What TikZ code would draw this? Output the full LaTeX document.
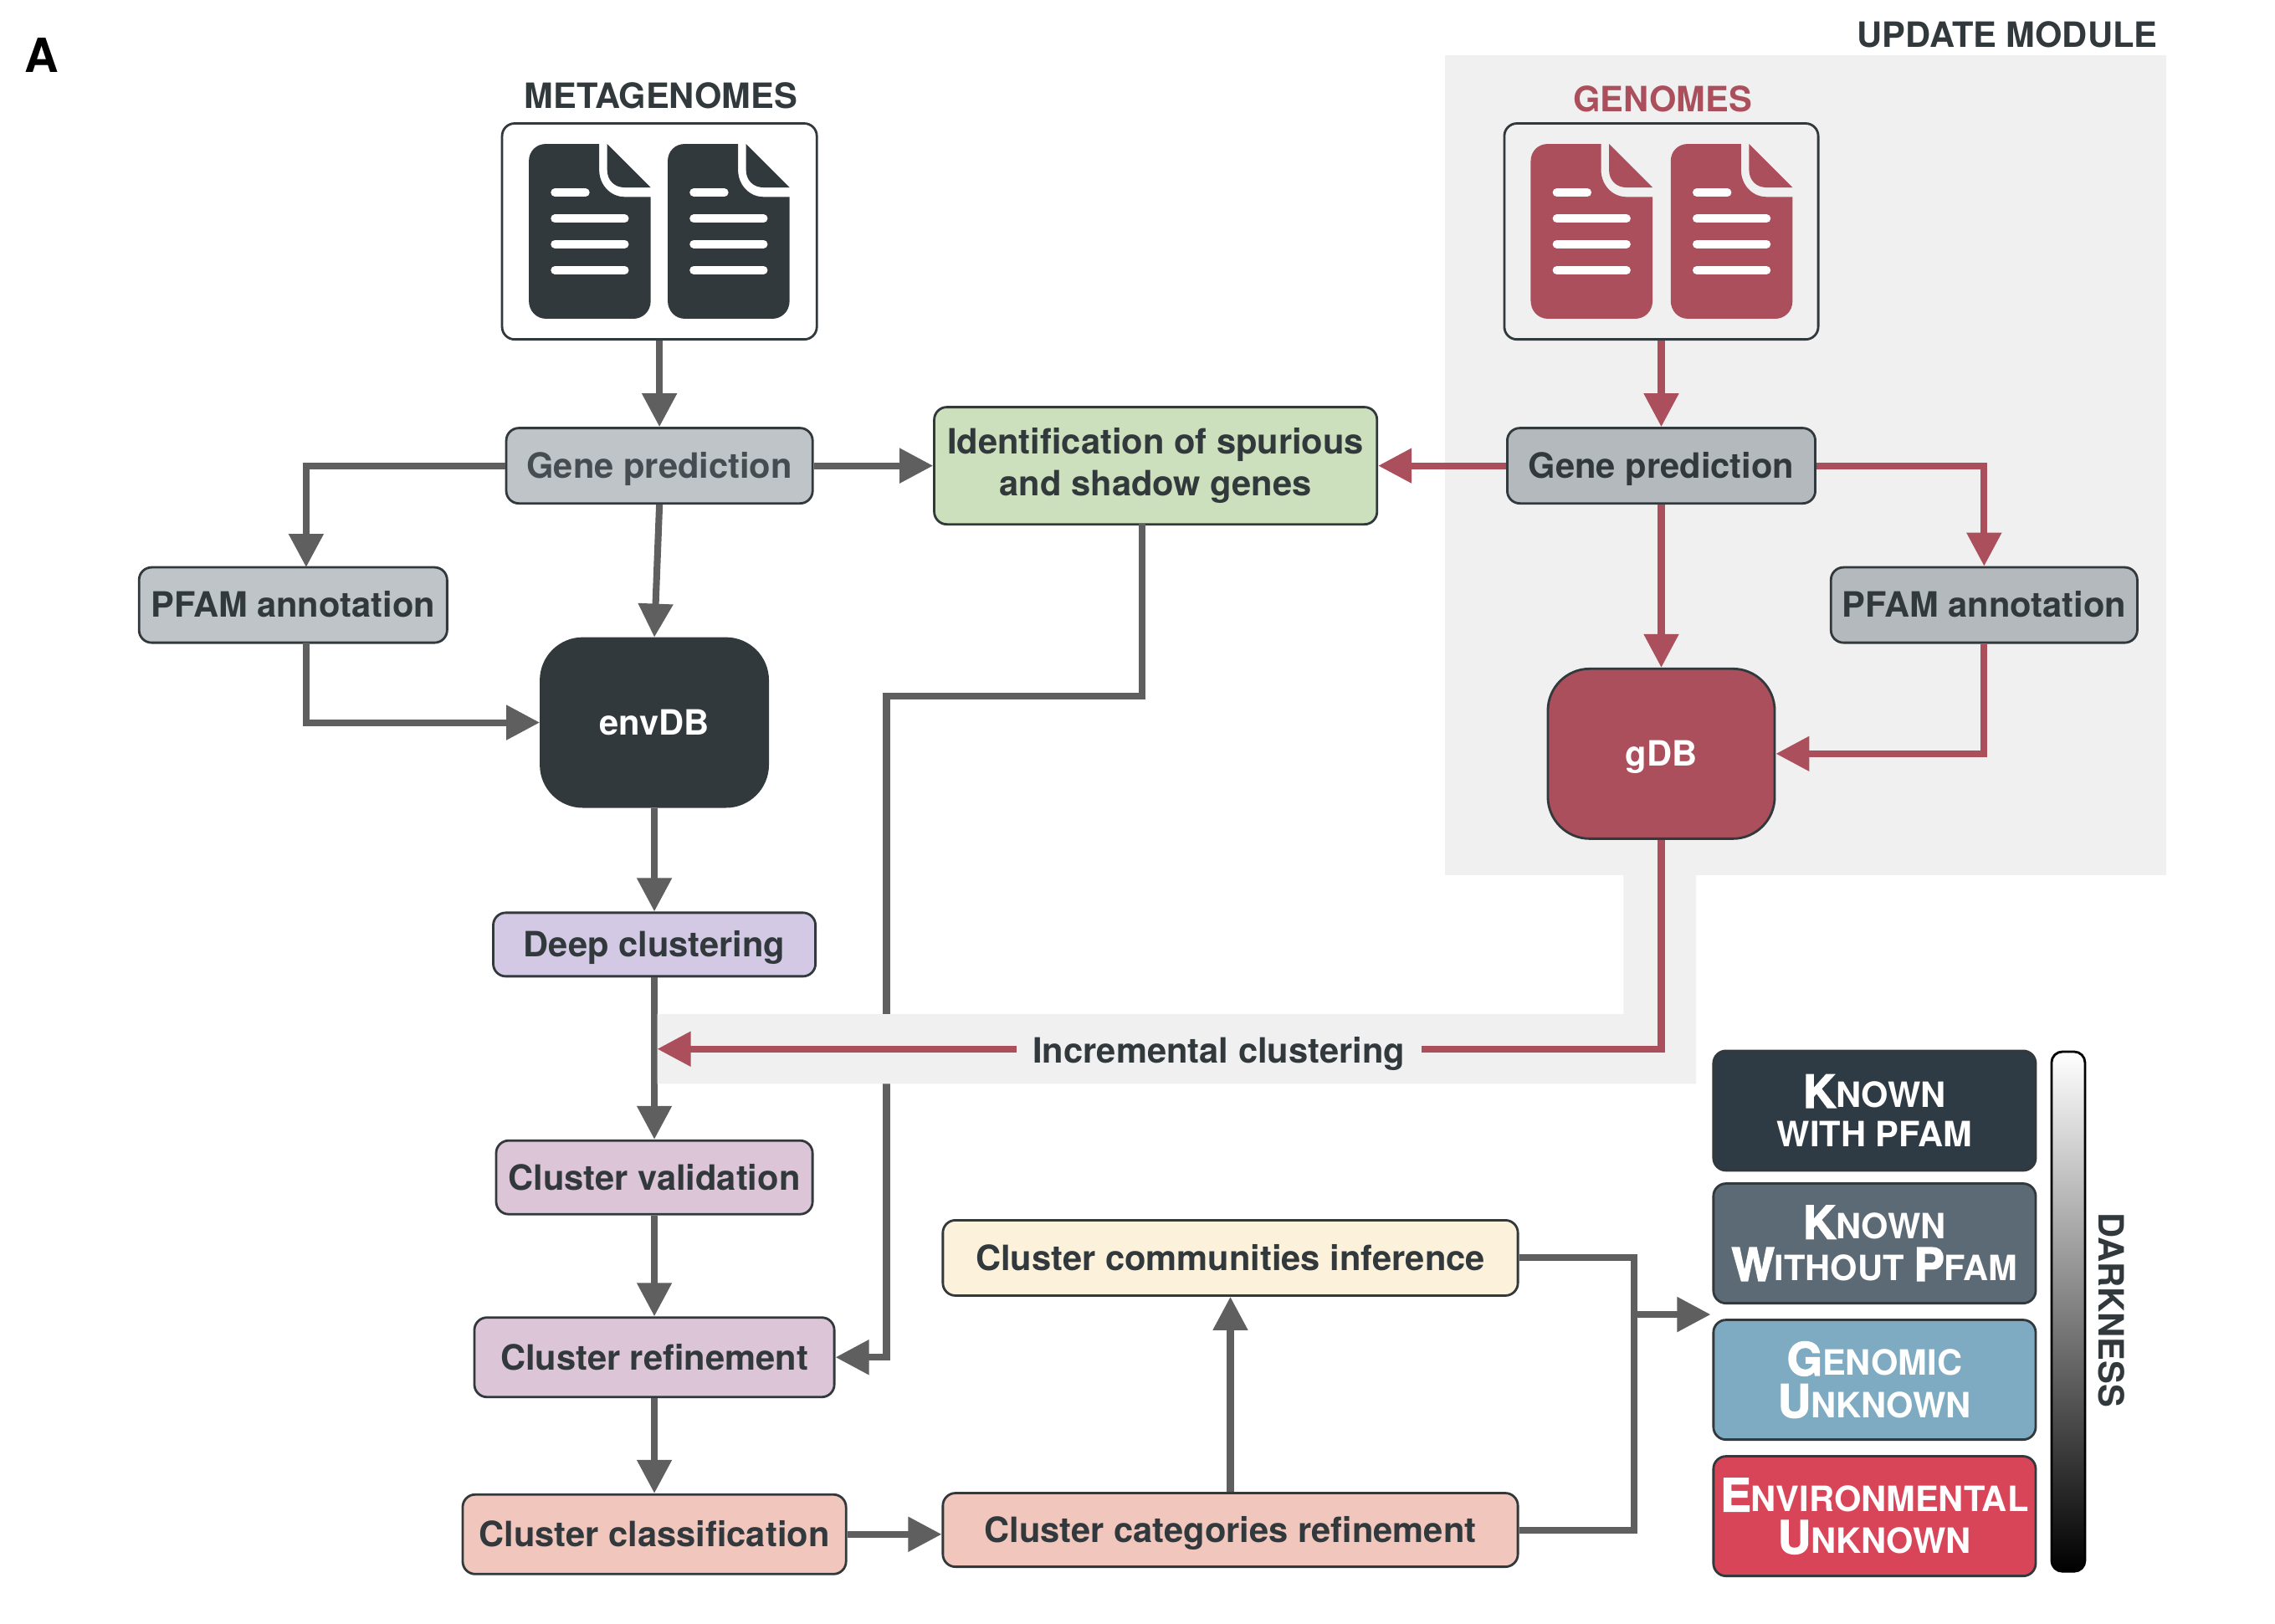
\documentclass[tikz,border=0pt]{standalone}
\usepackage{fontspec}
\setmainfont{TeX Gyre Heros}
\newfontfamily\heavyfont{TeX Gyre Heros}[BoldFeatures={FakeBold=2.5}]
\usetikzlibrary{arrows.meta}
\definecolor{inkdark}{HTML}{32393D}
\definecolor{inksoft}{HTML}{454D52}
\definecolor{flowgrey}{HTML}{5F5F5F}
\definecolor{flowred}{HTML}{AA4F5B}
\definecolor{panelgrey}{HTML}{F0F0F0}
\definecolor{boxsteel}{HTML}{BEC4C8}
\definecolor{boxslate}{HTML}{B4B9BD}
\definecolor{boxdeep}{HTML}{D3C9E4}
\definecolor{boxpink}{HTML}{DCC5D6}
\definecolor{boxsalmon}{HTML}{F0C6BD}
\definecolor{boxgreen}{HTML}{CDE0BD}
\definecolor{boxcream}{HTML}{FCF2DC}
\definecolor{legknown}{HTML}{2E3B44}
\definecolor{legkwp}{HTML}{5B6A74}
\definecolor{leggenomic}{HTML}{7EABC1}
\definecolor{legenv}{HTML}{D94558}
\newcommand{\capl}[1]{{\heavyfont\fontsize{15.5}{14.3}\selectfont #1}}
\tikzset{
  stepbox/.style={draw=inkdark, line width=0.8pt, rounded corners=0.15cm, inner sep=0pt, align=center, text=inkdark, font=\fontsize{11.85}{14.3}\selectfont\bfseries},
  singlebox/.style={stepbox, text height=0.297cm, text depth=0pt},
  dbbox/.style={singlebox, rounded corners=0.5cm, minimum width=2.71cm, text=white},
  legendbox/.style={stepbox, minimum width=3.85cm, minimum height=1.43cm, text=white},
  titletext/.style={inner sep=0pt, text=inkdark, text height=0.297cm, text depth=0pt, font=\fontsize{11.85}{14.3}\selectfont\bfseries},
  flowline/.style={line width=2.3pt, flowgrey},
  flowarrow/.style={flowline, -{Triangle[length=0.4cm,width=0.4cm]}},
  redline/.style={line width=2.3pt, flowred},
  redarrow/.style={redline, -{Triangle[length=0.4cm,width=0.4cm]}}
}
\begin{document}
\begin{tikzpicture}[x=0.017341cm, y=-0.017341cm]
    \useasboundingbox (0, 0) rectangle (1568, 1119.3);

    % Update module panel
    \fill[panelgrey] (996, 38) rectangle (1493, 603);

    \node[titletext, text height=0.41cm, font=\fontsize{16}{16}\selectfont\bfseries, text=black] (panela) at (28.5, 38) {A};
    \node[titletext] (updatetitle) at (1383.5, 24) {UPDATE MODULE};
    \node[titletext] (metatitle) at (455.5, 66) {METAGENOMES};
    \node[titletext, text=flowred] (genometitle) at (1146, 68.5) {GENOMES};

    % Input boxes
    \node[stepbox, fill=white, minimum width=3.76cm, minimum height=2.58cm] (metabox) at (454.5, 159.5) {};
    \node[stepbox, fill=panelgrey, minimum width=3.75cm, minimum height=2.58cm] (genomebox) at (1145, 159.5) {};

    % Document icons
    \foreach \docx/\doccol in {364.5/inkdark, 460.2/inkdark, 1055/flowred, 1151.5/flowred} {
        \begin{scope}[shift={(\docx, 99.2)}]
            \fill[\doccol] (48.5, 0) -- (48.5, 18) .. controls (48.5, 28) and (56, 36.5) .. (66, 36.5) -- (84, 36.5) -- (84, 108)
                .. controls (84, 116) and (78, 120.5) .. (72, 120.5) -- (12, 120.5) .. controls (5, 120.5) and (0, 115) .. (0, 108)
                -- (0, 12) .. controls (0, 5) and (5, 0) .. (12, 0) -- cycle;
            \fill[\doccol] (54, 0) -- (84, 30) -- (66, 30) .. controls (59, 30) and (54, 25) .. (54, 18) -- cycle;
            \draw[white, line width=2.85pt, line cap=round] (18, 33.5) -- (39, 33.5);
            \foreach \docy in {51.5, 69, 87} {
                \draw[white, line width=2.85pt, line cap=round] (18, \docy) -- (66, \docy);
            }
        \end{scope}
    }

    % Left column
    \node[singlebox, fill=boxsteel, text=inksoft, minimum width=3.66cm, minimum height=0.9cm] (genel) at (454.5, 321) {Gene prediction};
    \node[singlebox, fill=boxsteel, minimum width=3.68cm, minimum height=0.9cm] (pfaml) at (202, 417) {PFAM annotation};
    \node[dbbox, fill=inkdark, minimum height=2.01cm] (envdb) at (451, 498) {envDB};
    \node[singlebox, fill=boxdeep, minimum width=3.85cm, minimum height=0.76cm] (deep) at (451, 651) {Deep clustering};
    \node[singlebox, fill=boxpink, minimum width=3.78cm, minimum height=0.88cm] (validation) at (451, 811.5) {Cluster validation};
    \node[singlebox, fill=boxpink, minimum width=4.3cm, minimum height=0.95cm] (refinement) at (451, 935.5) {Cluster refinement};
    \node[singlebox, fill=boxsalmon, minimum width=4.58cm, minimum height=0.95cm] (classification) at (451, 1057.5) {Cluster classification};

    % Middle column
    \node[stepbox, fill=boxgreen, minimum width=5.29cm, minimum height=1.4cm] (identif) at (796.5, 321) {Identification of spurious\\and shadow genes};
    \node[singlebox, fill=boxcream, minimum width=6.87cm, minimum height=0.9cm] (communities) at (848, 867) {Cluster communities inference};
    \node[singlebox, fill=boxsalmon, minimum width=6.87cm, minimum height=0.88cm] (categories) at (848, 1054.5) {Cluster categories refinement};

    % Right column
    \node[singlebox, fill=boxslate, minimum width=3.68cm, minimum height=0.9cm] (gener) at (1145, 321) {Gene prediction};
    \node[singlebox, fill=boxslate, minimum width=3.66cm, minimum height=0.9cm] (pfamr) at (1367.5, 417) {PFAM annotation};
    \node[dbbox, fill=flowred, minimum height=2.03cm] (gdb) at (1145, 519.5) {gDB};

    % Legend
    \node[legendbox, fill=legknown] (known) at (1292, 765.5) {\capl{K}NOWN\\[-1pt]WITH PFAM};
    \node[legendbox, fill=legkwp] (knownwp) at (1292, 857) {\capl{K}NOWN\\\capl{W}ITHOUT \capl{P}FAM};
    \node[legendbox, fill=leggenomic] (genomic) at (1292, 951) {\capl{G}ENOMIC\\\capl{U}NKNOWN};
    \node[legendbox, fill=legenv] (environmental) at (1292, 1045) {\capl{E}NVIRONMENTAL\\\capl{U}NKNOWN};
    \node[draw=black, line width=0.8pt, rounded corners=0.13cm, top color=white, bottom color=black, minimum width=0.4cm, minimum height=6.21cm, inner sep=0pt] (darkbar) at (1425.5, 904) {};
    \node[titletext, rotate=-90] (darktitle) at (1455, 903) {DARKNESS};

    % Free ends
    \coordinate (pfamlin) at (211, 391);
    \coordinate (pfamlout) at (211, 443);
    \coordinate (identout) at (787, 361);
    \coordinate (identbend) at (611, 480);
    \coordinate (trunk) at (1126, 906);
    \coordinate (legendin) at (1179, 906);
    \coordinate (incend) at (453, 723);

    % Grey connectors
    \draw[flowarrow] (metabox.south) -- (genel.north);
    \draw[flowarrow] (genel.west) -| (pfamlin);
    \draw[flowarrow] (genel.east) -- (identif.west |- genel.east);
    \draw[flowarrow] (genel.south) -- (envdb.north);
    \draw[flowarrow] (pfamlout) |- (envdb.west);
    \draw[flowarrow] (envdb.south) -- (deep.north);
    \draw[flowarrow] (deep.south) -- (validation.north);
    \draw[flowarrow] (validation.south) -- (refinement.north);
    \draw[flowarrow] (refinement.south) -- (classification.north);
    \draw[flowarrow] (classification.east) -- (categories.west |- classification.east);
    \draw[flowarrow] (categories.north) -- (communities.south);
    \draw[flowarrow] (identout) |- (identbend) |- (refinement.east);
    \draw[flowline] (communities.east) -| (trunk) |- (categories.east);
    \draw[flowarrow] (trunk) -- (legendin);

    % Band of the incremental step
    \fill[panelgrey] (1119, 603) -- (1169, 603) -- (1169, 747) -- (453, 747) -- (453, 699) -- (1119, 699) -- cycle;
    \node[titletext, inner xsep=0.19cm] (incremental) at (840, 724) {Incremental clustering};

    % Red connectors
    \draw[redarrow] (genomebox.south) -- (gener.north);
    \draw[redarrow] (gener.west) -- (identif.east |- gener.west);
    \draw[redarrow] (gener.east) -| (pfamr.north);
    \draw[redarrow] (gener.south) -- (gdb.north);
    \draw[redarrow] (pfamr.south) |- (gdb.east);
    \draw[redline] (gdb.south) |- (incremental.east |- incend);
    \draw[redarrow] (incremental.west |- incend) -- (incend);
\end{tikzpicture}
\end{document}
